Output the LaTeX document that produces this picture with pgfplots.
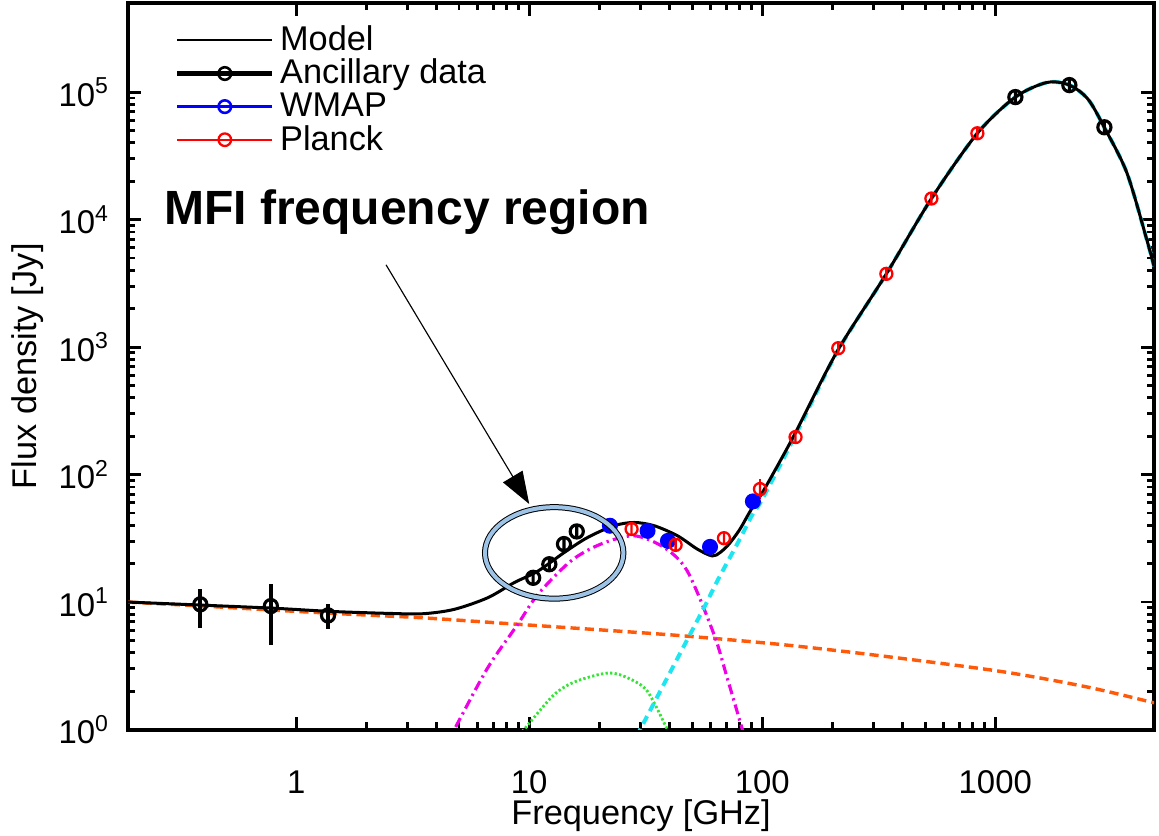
\documentclass[border=0pt]{standalone}
\usepackage{fontspec}
\setmainfont{Liberation Sans}
\usepackage{pgfplots}
\pgfplotsset{compat=1.18}
\usetikzlibrary{calc,arrows.meta}

\definecolor{ffor}{HTML}{FF5A0A}
\definecolor{amemag}{HTML}{F000E6}
\definecolor{cmbgr}{HTML}{33E633}
\definecolor{dustcy}{HTML}{1EE6F0}
\definecolor{ellblue}{HTML}{9DC3E6}

% open circle with a vertical bar through it
\pgfdeclareplotmark{ophi}{%
  \pgfpathcircle{\pgfpointorigin}{\pgfplotmarksize}%
  \pgfpathmoveto{\pgfpoint{0pt}{-\pgfplotmarksize}}%
  \pgfpathlineto{\pgfpoint{0pt}{\pgfplotmarksize}}%
  \pgfusepathqstroke}

\begin{document}
\begin{tikzpicture}
\begin{axis}[
  scale only axis, width=358.8pt, height=254.1pt,
  xmode=log, ymode=log,
  xmin=0.19, xmax=4800, ymin=1, ymax=5e5,
  axis line style={line width=1.4pt},
  tick style={line width=1pt, black},
  major tick length=4.5pt, minor tick length=2.5pt,
  tick align=inside,
  xtick={1,10,100,1000}, xticklabels={1,10,100,1000},
  ytick={1,10,100,1000,10000,100000},
  yticklabels={10\textsuperscript{0},10\textsuperscript{1},10\textsuperscript{2},10\textsuperscript{3},10\textsuperscript{4},10\textsuperscript{5}},
  ticklabel style={font=\fontsize{11.5}{13}\selectfont},
  xticklabel style={yshift=-10.8pt},
  yticklabel style={xshift=-3pt},
  xlabel={Frequency [GHz]}, ylabel={Flux density [Jy]},
  label style={font=\fontsize{12}{14}\selectfont},
  xlabel style={at={(axis description cs:0.5,-0.131)}, anchor=base},
  ylabel style={at={(axis description cs:-0.0975,0.5)}, anchor=center},
  legend style={draw=none, fill=none, at={(0.037,0.982)}, anchor=north west,
    font=\fontsize{12}{13}\selectfont, row sep=-0.4pt,
    nodes={inner ysep=1pt},
    every odd column/.append style={column sep=2.5pt}},
  legend cell align=left,
  legend image code/.code={\draw[mark repeat=2,mark phase=2,#1]
    plot coordinates {(0pt,0pt) (16.6pt,0pt) (33.2pt,0pt)};},
]
\addlegendimage{black, line width=0.7pt}
\addlegendimage{black, line width=1.5pt, mark=o, mark size=2.2pt, mark options={line width=0.9pt}}
\addlegendimage{blue, line width=1.2pt, mark=o, mark size=2.2pt, mark options={line width=0.9pt}}
\addlegendimage{red, line width=0.7pt, mark=o, mark size=2.2pt, mark options={line width=0.8pt}}
\legend{Model, Ancillary data, WMAP, Planck}

% free-free
\addplot[ffor, line width=1.2pt, dash pattern=on 3.2pt off 1.8pt, smooth] coordinates {
  (0.19,10.0) (0.4,9.3) (1,8.45) (1.9,7.95) (3.6,7.5) (9.2,6.67) (24.7,5.9)
  (47.7,5.4) (120,4.65) (300,3.85) (1052,2.86) (2500,2.15) (4800,1.62)};
% AME
\addplot[amemag, line width=1.1pt, dash pattern=on 3.5pt off 1.5pt on 0.8pt off 1.5pt, smooth] coordinates {
  (4.4,0.75) (4.77,1.0) (6.63,3.04) (8.92,6.67) (10.9,11.5) (15.1,21) (20.3,28.5)
  (28.2,33.1) (37.9,26.8) (47.7,17.5) (62.1,5.57) (70.8,2.53) (82.2,1.0) (86,0.75)};
% CMB
\addplot[cmbgr, line width=1.0pt, dash pattern=on 0.8pt off 0.8pt, smooth] coordinates {
  (8.8,0.85) (9.5,1.0) (12.8,1.88) (16,2.4) (22,2.78) (27,2.5) (32.2,1.99) (39.2,1.0) (41,0.85)};
% thermal dust
\addplot[dustcy, line width=1.4pt, dash pattern=on 3pt off 2pt, smooth] coordinates {
  (29,0.88) (30.1,1.02) (40,2.75) (56.2,9.0) (64.1,14.6) (80,31) (91,49) (100,64)
  (141,215) (210,920) (341,3750) (532,14600) (838,47500) (1220,91400)
  (1667,119000) (2080,113500) (2500,88000) (2940,52700) (3670,23300) (4470,6950) (4800,4300)};
% model
\addplot[black, line width=1.05pt, smooth] coordinates {
  (0.19,10.0) (0.4,9.45) (0.8,8.95) (1.4,8.45) (2.5,8.15) (3.5,8.1) (4.77,8.77)
  (6.63,10.8) (8.62,14.2) (10.9,17.5) (14.1,24.4) (17.8,32.1) (23.1,39.7) (28.2,42.1)
  (34.4,39.7) (43.3,33.1) (52.7,26.0) (61,23.0) (66,24.5) (72,28.5) (80,37) (89,52)
  (100,72) (120,130) (141,225) (210,930) (341,3757) (532,14630) (838,47550)
  (1220,91400) (1667,119000) (2080,113500) (2500,88000) (2940,52700) (3670,23300)
  (4470,6950) (4800,4300)};

% ancillary data
\addplot[black, only marks, mark=ophi, mark size=2.3pt, mark options={line width=1.1pt},
  error bars/.cd, y dir=both, y explicit, error mark=none,
  error bar style={line width=1.4pt}] coordinates {
  (0.388,9.6) += (0,3.1) -= (0,3.3)
  (0.779,9.3) += (0,4.6) -= (0,4.66)
  (1.37,7.86) += (0,1.74) -= (0,1.7)
  (10.4,15.5) (12.2,19.8) (14.1,28.5) (16.0,35.8)
  (1220,91400) (2080,113500) (2940,53000)};
% WMAP
\addplot[blue, only marks, mark=*, mark size=2.6pt] coordinates {
  (22.2,39.7) (32.2,36.2) (39.4,30.2) (59.7,27.1) (91.2,61.6)};
% Planck
\addplot[red, only marks, mark=ophi, mark size=2.1pt, mark options={line width=0.8pt},
  error bars/.cd, y dir=both, y explicit, error mark=none,
  error bar style={line width=0.8pt}] coordinates {
  (27.5,37.4) (42.5,28.1) (68.5,31.7) (97.8,77) += (0,16) -= (0,12.3)
  (139,197) (212,980) (341,3757) (532,14630) (838,47550)};

\coordinate (ellc) at (axis cs:12.8,24.3);
\coordinate (arrs) at (axis cs:2.43,4420);
\coordinate (arrt) at (axis cs:10.0,58.8);
\coordinate (txt) at (axis cs:2.99,9140);
\end{axis}

\node[anchor=base, font=\fontsize{16.8}{18}\selectfont\bfseries, inner sep=0pt] at (txt) {MFI frequency region};
\draw[line width=0.4pt, -{Triangle[length=11.2pt, width=7.9pt]}] (arrs) -- (arrt);
\draw[black, line width=2.1pt] (ellc) ellipse [x radius=24.2pt, y radius=16.0pt];
\draw[ellblue, line width=1.4pt] (ellc) ellipse [x radius=24.2pt, y radius=16.0pt];

\pgfresetboundingbox
\path ($(current axis.south west)+(-44.8pt,-37.1pt)$) rectangle ($(current axis.north east)+(1.75pt,1.05pt)$);
\end{tikzpicture}
\end{document}
